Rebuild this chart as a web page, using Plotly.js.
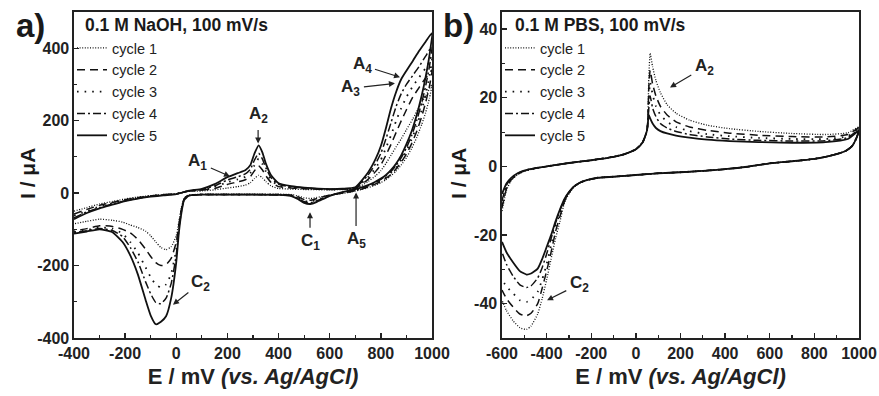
<!DOCTYPE html>
<html><head><meta charset="utf-8">
<script src="https://cdn.plot.ly/plotly-3.0.1.min.js"></script>
<style>html,body{margin:0;padding:0;background:#fff}#chart{width:879px;height:396px}</style>
</head><body><div id="chart"></div>
<script>
// ---------- Panel a: 0.1 M NaOH ----------
const aFwdE = [-400,-350,-300,-250,-200,-150,-100,-50,0,50,100,150,200,240,270,290,305,322,337,350,370,400,450,500,600,650,700,750,780,800,820,840,860,880,900,925,950,975,1000];
const aFwd1 = [-50,-40,-30,-23,-16,-11,-7,-4,-1.5,5,6,9,14,18,22,29,40,49,42,32,20,13,11,10,9,10,12,32,48,62,82,105,128,150,175,205,238,268,300];
const aFwd2 = [-58,-45,-34,-26,-18,-12,-8,-4,-2,5.5,8,13,24,31,37,46,61,75,64,48,30,18,14,12,10,11,13,38,60,78,105,135,168,200,230,265,292,318,340];
const aFwd3 = [-62,-50,-37,-28,-19,-13,-8,-5,-2,6,9,17,30,38,45,56,76,95,80,60,37,21,16,13,10,11,14,44,70,92,125,160,200,235,265,295,320,345,372];
const aFwd4 = [-68,-52,-40,-30,-21,-14,-9,-5,-2.5,6.5,10,20,36,45,53,66,90,110,94,70,43,24,17,14,11,12,15,50,82,110,150,195,240,275,300,325,350,378,405];
const aFwd5 = [-72,-55,-42,-32,-22,-15,-10,-6,-3,7,12,25,44,55,63,78,108,132,112,82,50,27,19,15,11,12,16,57,95,130,180,235,280,315,338,365,393,418,442];
const aRevE = [990,975,960,940,920,900,880,860,840,820,800,775,750,725,700,675,650,620,600,575,550,525,500,475,450,400,300,200,100,70,50,40,30,20,10,0,-20,-40,-60,-80,-100,-120,-150,-180,-210,-250,-300,-350,-400];
const aRev1 = [262,222,190,153,123,98,78,61,48,37,29,21,15,10,6,2,-1,-4,-6,-9,-12,-15,-13,-8,-4,-3,-3,-3,-3,-4,-5,-8,-15,-40,-80,-118,-148,-156,-150,-135,-118,-105,-95,-88,-80,-75,-72,-78,-85];
const aRev2 = [295,250,212,170,136,108,86,67,52,41,32,24,17,11,7,3,0,-3,-5,-10,-15,-20,-18,-10,-5,-4,-4,-4,-4,-5,-6,-9,-17,-45,-88,-135,-180,-197,-200,-192,-175,-155,-128,-110,-100,-92,-90,-98,-105];
const aRev3 = [322,272,230,185,148,116,92,72,56,44,35,26,18,12,8,4,1,-3,-6,-12,-18,-24,-21,-12,-6,-4,-4,-4,-4,-5,-7,-10,-18,-48,-95,-155,-222,-252,-260,-253,-232,-205,-165,-135,-112,-98,-95,-102,-108];
const aRev4 = [350,295,250,200,158,125,98,77,60,47,38,28,20,14,9,5,2,-3,-7,-14,-21,-27,-24,-14,-7,-5,-4,-4,-4,-5,-7,-11,-19,-50,-100,-170,-250,-290,-305,-302,-278,-245,-190,-150,-120,-103,-98,-104,-110];
const aRev5 = [380,320,270,215,170,135,105,82,64,50,40,30,22,16,11,7,3,-3,-8,-16,-24,-30,-27,-16,-8,-5,-4,-4,-4,-5,-7,-12,-20,-55,-110,-190,-290,-340,-355,-362,-338,-295,-225,-172,-135,-108,-100,-106,-112];
const aXTicks = [-400,-200,0,200,400,600,800,1000];
const aXTickText = ['-400','-200','0','200','400','600','800','1000'];
const aYTicks = [-400,-200,0,200,400];
const aYTickText = ['-400','-200','0','200','400'];

// ---------- Panel b: 0.1 M PBS ----------
const bFwdE = [-600,-580,-560,-530,-500,-450,-400,-300,-200,-100,-50,0,30,50,58,64,75,90,110,140,180,240,320,420,550,700,850,950,1000];
const bFwd1 = [-13,-7,-4.2,-2.4,-1.4,-0.6,0,1,1.8,2.8,3.6,5,7,10.5,26,33,29,25,21.5,18,15.5,13.5,12,11,10.2,9.6,9.3,9.8,11.5];
const bFwd2 = [-12,-6.5,-4,-2.3,-1.3,-0.5,0,1,1.8,2.8,3.6,5,7,10.5,23,28,24,20.5,17.5,15,13,11.5,10.5,9.7,9.1,8.7,8.6,9.3,11.2];
const bFwd3 = [-11,-6,-3.8,-2.2,-1.3,-0.5,0,1,1.8,2.8,3.6,5,7,10.5,20,24.5,21,17.5,15,13,11.5,10.3,9.4,8.8,8.3,8,8,8.8,11];
const bFwd4 = [-10,-5.5,-3.6,-2.1,-1.2,-0.5,0,1,1.8,2.8,3.6,5,7,10.5,17,20.5,17,14.5,12.5,11.2,10.2,9.3,8.6,8,7.6,7.4,7.5,8.4,10.8];
const bFwd5 = [-8,-5,-3.4,-2,-1.2,-0.5,0,1,1.8,2.8,3.6,5,7,10.5,15,14,12.5,11.2,10.3,9.6,9,8.4,7.8,7.4,7.1,6.9,7.1,8,10.5];
const bRevE = [990,970,940,900,850,800,700,600,500,400,300,200,100,0,-100,-170,-220,-250,-280,-300,-320,-340,-360,-380,-400,-420,-440,-470,-490,-520,-550,-580,-600];
const bRev1 = [8.5,6,4.5,3.6,2.8,2.2,1.5,0.9,-0.1,-0.8,-1.3,-1.7,-2,-2.5,-3,-3.3,-4,-4.8,-6.2,-8,-10.5,-16,-21,-27,-33,-38.5,-43,-46.5,-47.5,-47,-45,-42,-39];
const bRev2 = [8.5,6,4.5,3.6,2.8,2.2,1.5,0.9,-0.1,-0.8,-1.3,-1.7,-2,-2.5,-3,-3.3,-4,-4.7,-6,-7.8,-10.2,-14.5,-19,-25,-30.5,-35.5,-40,-42.8,-43.5,-43,-41,-38.5,-36];
const bRev3 = [8.5,6,4.5,3.6,2.8,2.2,1.5,0.9,-0.1,-0.8,-1.3,-1.7,-2,-2.5,-3,-3.3,-4,-4.7,-6,-7.6,-9.8,-13.5,-17.5,-23,-28.5,-33,-36.5,-38.8,-39.5,-39,-37,-35,-33];
const bRev4 = [8.5,6,4.5,3.6,2.8,2.2,1.5,0.9,-0.1,-0.8,-1.3,-1.7,-2,-2.5,-3,-3.3,-4,-4.7,-6,-7.5,-9.6,-12.8,-16.5,-21,-25.5,-29.5,-32.5,-34.8,-35.3,-34.5,-32,-28.5,-25];
const bRev5 = [8.5,6,4.5,3.6,2.8,2.2,1.5,0.9,-0.1,-0.8,-1.3,-1.7,-2,-2.5,-3,-3.3,-4,-4.7,-6,-7.5,-9.5,-12.5,-16,-20,-23.5,-27,-29.8,-31.2,-31.5,-30.5,-28,-25,-22];
const bXTicks = [-600,-400,-200,0,200,400,600,800,1000];
const bXTickText = ['-600','-400','-200','0','200','400','600','800','1000'];
const bYTicks = [-40,-20,0,20,40];
const bYTickText = ['-40','-20','0','20','40'];

const cycleNames = ['cycle 1','cycle 2','cycle 3','cycle 4','cycle 5'];
const dashes = ['1px,1.6px','8px,5px','1.6px,6px','8px,3px,2px,3px','solid'];
const widths = [1.3,1.5,1.8,1.5,1.8];

const FONT = 'Liberation Sans, Arial, sans-serif';
const traces = [];
function addPanel(fwdE, fwds, revE, revs, xa, ya, leg) {
  for (let i = 0; i < 5; i++) {
    traces.push({
      type: 'scatter', mode: 'lines',
      x: fwdE.concat(revE), y: fwds[i].concat(revs[i]),
      xaxis: xa, yaxis: ya, name: cycleNames[i], legend: leg,
      legendgroup: leg + i,
      line: {color: '#111', width: widths[i], dash: dashes[i], shape: 'spline', smoothing: 0.5},
      hoverinfo: 'skip'
    });
  }
}
addPanel(aFwdE, [aFwd1,aFwd2,aFwd3,aFwd4,aFwd5], aRevE, [aRev1,aRev2,aRev3,aRev4,aRev5], 'x', 'y', 'legend');
addPanel(bFwdE, [bFwd1,bFwd2,bFwd3,bFwd4,bFwd5], bRevE, [bRev1,bRev2,bRev3,bRev4,bRev5], 'x2', 'y2', 'legend2');

const W = 879, H = 396;
const px = v => v / W, py = v => 1 - v / H;

function axisBase() {
  return {
    showline: true, linecolor: '#222', linewidth: 1.6, mirror: true,
    ticks: 'inside', ticklen: 5, tickwidth: 1.4, tickcolor: '#222',
    showgrid: false, zeroline: false,
    tickfont: {family: FONT, size: 16, color: '#222', weight: 'bold'},
  };
}
const xTitle = {text: 'E / mV <i>(vs. Ag/AgCl)</i>', font: {family: FONT, size: 22, color: '#222', weight: 'bold'}, standoff: 8};
const minorT = d => ({ticks: 'inside', ticklen: 3, tickwidth: 1.2, tickcolor: '#222', dtick: d, tick0: 0});

const yDom = [(H - 338) / H, (H - 12) / H];
const layout = {
  width: W, height: H, margin: {l: 0, r: 0, t: 0, b: 0},
  paper_bgcolor: '#fff', plot_bgcolor: '#fff', showlegend: true,
  font: {family: FONT, color: '#222'},
  xaxis: Object.assign(axisBase(), {domain: [px(74), px(432)], range: [-400, 1000], tickvals: aXTicks, ticktext: aXTickText,
    minor: minorT(100), title: xTitle, anchor: 'y'}),
  yaxis: Object.assign(axisBase(), {domain: yDom, range: [-400, 500], tickvals: aYTicks, ticktext: aYTickText,
    minor: minorT(100), anchor: 'x'}),
  xaxis2: Object.assign(axisBase(), {domain: [px(502), px(859)], range: [-600, 1000], tickvals: bXTicks, ticktext: bXTickText,
    minor: minorT(100), title: xTitle, anchor: 'y2'}),
  yaxis2: Object.assign(axisBase(), {domain: yDom, range: [-50, 45], tickvals: bYTicks, ticktext: bYTickText,
    minor: minorT(10), anchor: 'x2'}),
  legend: {x: px(72), y: py(32), xanchor: 'left', yanchor: 'top', bgcolor: 'rgba(0,0,0,0)', borderwidth: 0,
    font: {family: FONT, size: 14.5, color: '#222'}, traceorder: 'grouped', tracegroupgap: 0, itemwidth: 30},
  legend2: {x: px(500), y: py(32), xanchor: 'left', yanchor: 'top', bgcolor: 'rgba(0,0,0,0)', borderwidth: 0,
    font: {family: FONT, size: 14.5, color: '#222'}, traceorder: 'grouped', tracegroupgap: 0, itemwidth: 30},
  annotations: []
};

const ann = layout.annotations;
const bold17 = {family: FONT, size: 17, color: '#222', weight: 'bold'};
function paperText(x, y, text, size, opts) {
  ann.push(Object.assign({xref: 'paper', yref: 'paper', x: px(x), y: py(y), xanchor: 'center', yanchor: 'middle',
    text: text, showarrow: false, font: {family: FONT, size: size, color: '#1a1a1a', weight: 'bold'}}, opts || {}));
}
// y-axis titles
paperText(27, 174, 'I / μA', 21, {textangle: -90});
paperText(458, 174, 'I / μA', 21, {textangle: -90});
// panel letters and conditions
paperText(30, 26, 'a)', 33);
paperText(458, 26, 'b)', 33);
paperText(83, 25, '0.1 M NaOH, 100 mV/s', 17.5, {xanchor: 'left'});
paperText(513, 25, '0.1 M PBS, 100 mV/s', 17.5, {xanchor: 'left'});
// peak labels with arrows (head at data point, text offset in px)
function peak(xr, yr, x, y, label, ax, ay) {
  ann.push({xref: xr, yref: yr, x: x, y: y, text: label, showarrow: true, arrowhead: 2, arrowsize: 1, arrowwidth: 1.2,
    arrowcolor: '#222', ax: ax, ay: ay, standoff: 0, startstandoff: 2, font: bold17});
}
peak('x', 'y', 210, 46, 'A<sub>1</sub>', -32, -14);
peak('x', 'y', 320, 137, 'A<sub>2</sub>', 0, -28);
peak('x', 'y', 875, 320, 'A<sub>4</sub>', -38, -12);
peak('x', 'y', 855, 303, 'A<sub>3</sub>', -44, 5);
peak('x', 'y', 523, -53, 'C<sub>1</sub>', 0, 30);
peak('x', 'y', 703, 2, 'A<sub>5</sub>', 0, 48);
peak('x', 'y', -13, -308, 'C<sub>2</sub>', 28, -22);
peak('x2', 'y2', 153, 23, 'A<sub>2</sub>', 34, -20);
peak('x2', 'y2', -398, -39, 'C<sub>2</sub>', 32, -16);

Plotly.newPlot('chart', traces, layout, {staticPlot: true, displayModeBar: false});
</script></body></html>
